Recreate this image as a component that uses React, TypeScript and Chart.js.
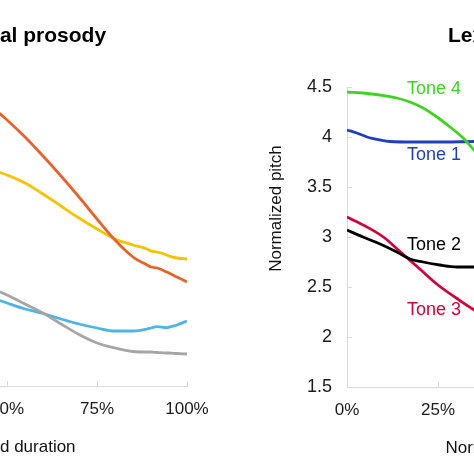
import React, { useEffect, useRef } from "react";
import { Chart, registerables } from "chart.js";

Chart.register(...registerables);

const FONT = "'Liberation Sans', Arial, Helvetica, sans-serif";

// ---------- shared axis labels ----------
const xTickLabels = ["0%", "25%", "50%", "75%", "100%"];
const yTickLabels = ["1.5", "2", "2.5", "3", "3.5", "4", "4.5"];

// ---------- left panel: Emotional prosody ----------
const emoX = [40, 46, 50, 55, 60, 65, 70, 75, 80, 85, 88.9, 90, 91.7, 94.4, 95, 97.2, 100];
const emoOrange = [4.4, 4.28, 4.16, 3.99, 3.8, 3.6, 3.39, 3.17, 2.96, 2.79, 2.71, 2.69, 2.68, 2.64, 2.63, 2.59, 2.54];
const emoYellow = [3.72, 3.66, 3.61, 3.53, 3.42, 3.3, 3.18, 3.07, 2.97, 2.91, 2.87, 2.85, 2.84, 2.81, 2.8, 2.78, 2.77];
const emoGray = [2.55, 2.47, 2.41, 2.32, 2.23, 2.12, 2.015, 1.93, 1.88, 1.845, 1.84, 1.84, 1.835, 1.83, 1.83, 1.825, 1.82];
const emoBlue = [2.45, 2.38, 2.33, 2.27, 2.225, 2.17, 2.12, 2.08, 2.05, 2.05, 2.07, 2.08, 2.093, 2.083, 2.088, 2.11, 2.15];

// ---------- right panel: Lexical tones ----------
const tone4X = [0, 4.4, 9.1, 13.7, 17.3, 20.9, 24.7, 28.3, 31.9, 34.9, 45, 60, 80, 100];
const tone4Y = [4.45, 4.44, 4.42, 4.39, 4.35, 4.29, 4.2, 4.1, 3.99, 3.87, 3.5, 3.0, 2.5, 2.2];
const tone1X = [0, 2.7, 5.5, 9.1, 11.8, 18, 27, 35, 60, 100];
const tone1Y = [4.07, 4.04, 4.0, 3.97, 3.955, 3.95, 3.95, 3.955, 3.95, 3.9];
const tone2X = [0, 4.4, 9.1, 13.7, 17.3, 20.9, 25.5, 30.2, 34.9, 50, 75, 100];
const tone2Y = [3.07, 3.0, 2.93, 2.85, 2.78, 2.75, 2.72, 2.7, 2.7, 2.75, 3.0, 3.3];
const tone3X = [0, 5, 10, 15, 20, 25, 30, 35, 50, 70, 100];
const tone3Y = [3.2, 3.11, 3.0, 2.84, 2.68, 2.52, 2.39, 2.27, 2.0, 1.95, 2.3];

// label anchors in data space (x %, y value)
const toneLabels = [
  { text: "Tone 4", x: 23.9, y: 4.475, color: "#3fd41f" },
  { text: "Tone 1", x: 23.9, y: 3.82, color: "#1f3fbf" },
  { text: "Tone 2", x: 23.9, y: 2.915, color: "#000000" },
  { text: "Tone 3", x: 23.9, y: 2.27, color: "#d4003a" },
];

type Series = { xs: number[]; ys: number[]; color: string };

type PanelCfg = {
  left: number;
  width: number;
  padTop: number;
  padRight: number;
  yAxisWidth: number;
  xAxisHeight: number;
  title: string;
  titleShift: number;
  series: Series[];
  labels: { text: string; x: number; y: number; color: string }[];
};

function makeDecor(cfg: PanelCfg) {
  return {
    id: "decor",
    beforeDatasetsDraw(chart: any) {
      const ctx = chart.ctx;
      const area = chart.chartArea;
      const xs = chart.scales.x;
      const ys = chart.scales.y;
      ctx.save();
      ctx.strokeStyle = "#d9d9d9";
      ctx.lineWidth = 1;
      ctx.beginPath();
      xs.ticks.forEach((t: any) => {
        const p = Math.round(xs.getPixelForValue(t.value)) + 0.5;
        ctx.moveTo(p, area.bottom);
        ctx.lineTo(p, area.bottom - 5);
      });
      ys.ticks.forEach((t: any) => {
        const p = Math.round(ys.getPixelForValue(t.value)) + 0.5;
        ctx.moveTo(area.left, p);
        ctx.lineTo(area.left + 5, p);
      });
      ctx.stroke();
      ctx.restore();
    },
    afterDraw(chart: any) {
      const ctx = chart.ctx;
      const area = chart.chartArea;
      const cx = (area.left + area.right) / 2;
      const cy = (area.top + area.bottom) / 2;
      ctx.save();
      // panel title
      ctx.fillStyle = "#000";
      ctx.font = `bold 21px ${FONT}`;
      ctx.textAlign = "center";
      ctx.textBaseline = "alphabetic";
      ctx.fillText(cfg.title, cx + cfg.titleShift, 42);
      // x axis title
      ctx.font = `17px ${FONT}`;
      ctx.fillStyle = "#111";
      ctx.fillText("Normalized duration", cx - 7.5, area.bottom + 66);
      // y axis title
      ctx.save();
      ctx.translate(area.left - 71, cy - 28.5);
      ctx.rotate(-Math.PI / 2);
      ctx.textBaseline = "middle";
      ctx.fillText("Normalized pitch", 0, 0);
      ctx.restore();
      // series labels
      ctx.font = `18px ${FONT}`;
      ctx.textBaseline = "middle";
      cfg.labels.forEach((l) => {
        ctx.fillStyle = l.color;
        ctx.fillText(l.text, chart.scales.x.getPixelForValue(l.x), chart.scales.y.getPixelForValue(l.y));
      });
      ctx.restore();
    },
  };
}

function Panel({ cfg }: { cfg: PanelCfg }) {
  const ref = useRef<HTMLCanvasElement | null>(null);
  useEffect(() => {
    if (!ref.current) return;
    const chart = new Chart(ref.current, {
      type: "line",
      data: {
        datasets: cfg.series.map((s, i) => ({
          label: "s" + i,
          data: s.xs.map((x, j) => ({ x, y: s.ys[j] })),
          borderColor: s.color,
          backgroundColor: s.color,
          borderWidth: 2.8,
          pointRadius: 0,
          cubicInterpolationMode: "monotone",
          fill: false,
        })),
      },
      options: {
        responsive: false,
        animation: false,
        layout: { padding: { top: cfg.padTop, right: cfg.padRight, bottom: 0, left: 0 } },
        plugins: {
          legend: { display: false },
          tooltip: { enabled: false },
          title: { display: false },
        },
        scales: {
          x: {
            type: "linear",
            min: 0,
            max: 100,
            ticks: {
              stepSize: 25,
              autoSkip: false,
              maxRotation: 0,
              padding: 13,
              color: "#1a1a1a",
              font: { family: FONT, size: 17 },
              callback: (_v: any, i: number) => xTickLabels[i],
            },
            grid: { display: true, drawOnChartArea: false, drawTicks: false },
            border: { display: true, color: "#d9d9d9", width: 1 },
            afterFit: (s: any) => {
              s.height = cfg.xAxisHeight;
            },
          },
          y: {
            type: "linear",
            min: 1.5,
            max: 4.5,
            ticks: {
              stepSize: 0.5,
              autoSkip: false,
              padding: 15,
              color: "#1a1a1a",
              font: { family: FONT, size: 18 },
              callback: (_v: any, i: number) => yTickLabels[i],
            },
            grid: { display: true, drawOnChartArea: false, drawTicks: false },
            border: { display: true, color: "#d9d9d9", width: 1 },
            afterFit: (s: any) => {
              s.width = cfg.yAxisWidth;
            },
          },
        },
      } as any,
      plugins: [makeDecor(cfg) as any],
    });
    return () => chart.destroy();
  }, [cfg]);
  return (
    <canvas
      ref={ref}
      width={cfg.width}
      height={474}
      style={{ position: "absolute", left: cfg.left, top: 0, width: cfg.width, height: 474 }}
    />
  );
}

const leftCfg: PanelCfg = {
  left: -225,
  width: 462,
  padTop: 86,
  padRight: 50,
  yAxisWidth: 52,
  xAxisHeight: 88,
  title: "Emotional prosody",
  titleShift: 4,
  series: [
    { xs: emoX, ys: emoOrange, color: "#e8622c" },
    { xs: emoX, ys: emoYellow, color: "#f7c200" },
    { xs: emoX, ys: emoGray, color: "#a6a6a6" },
    { xs: emoX, ys: emoBlue, color: "#4cb4e6" },
  ],
  labels: [],
};

const rightCfg: PanelCfg = {
  left: 237,
  width: 550,
  padTop: 87,
  padRight: 76,
  yAxisWidth: 110,
  xAxisHeight: 87,
  title: "Lexical tones",
  titleShift: -14.5,
  series: [
    { xs: tone4X, ys: tone4Y, color: "#3fd41f" },
    { xs: tone1X, ys: tone1Y, color: "#1f3fbf" },
    { xs: tone2X, ys: tone2Y, color: "#000000" },
    { xs: tone3X, ys: tone3Y, color: "#d4003a" },
  ],
  labels: toneLabels,
};

export default function App() {
  return (
    <div
      style={{
        position: "fixed",
        left: 0,
        top: 0,
        width: 474,
        height: 474,
        overflow: "hidden",
        background: "#ffffff",
      }}
    >
      <Panel cfg={leftCfg} />
      <Panel cfg={rightCfg} />
    </div>
  );
}
